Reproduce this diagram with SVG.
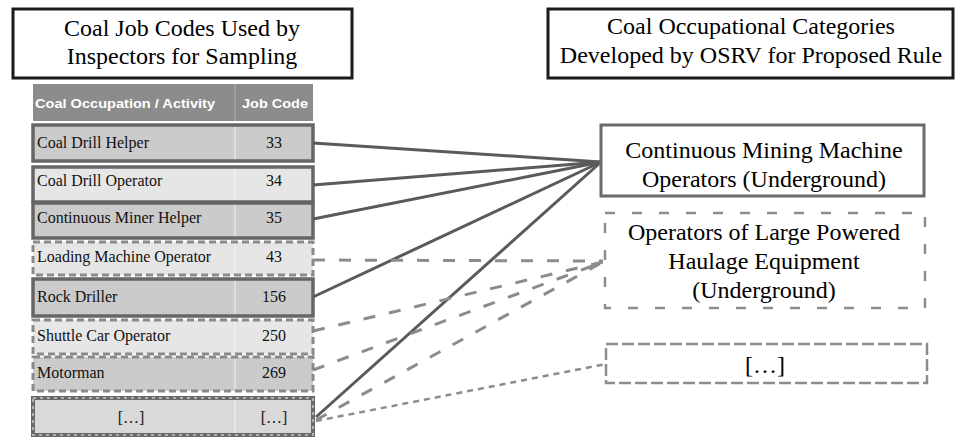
<svg xmlns="http://www.w3.org/2000/svg" width="959" height="444" viewBox="0 0 959 444">
<style>
.title{font-size:24px;fill:#000;text-anchor:middle}
.tbox{fill:#fff;stroke:#1a1a1a;stroke-width:3}
.hdr{font-weight:bold;font-size:12.5px;fill:#fff}
.cell{font-size:16px;fill:#111}
.code{font-size:16px;fill:#111;text-anchor:middle}
.dark{fill:#cbcbcb}
.light{fill:#e6e6e6}
.solidrow{stroke:#666;stroke-width:3.5}
.dashrow{stroke:#8a8a8a;stroke-width:3;stroke-dasharray:7 4}
.cat{font-size:24px;fill:#000;text-anchor:middle}
.solid{fill:none;stroke:#5a5a5a;stroke-width:3}
.dash{fill:none;stroke:#8c8c8c;stroke-width:3;stroke-dasharray:12 14}
.dot{fill:none;stroke:#8c8c8c;stroke-width:2.5;stroke-dasharray:6 5}
.div{stroke:#f4f4f4;stroke-width:1}
</style>

<g id="title-left" font-family="'Liberation Serif', 'Times New Roman', serif">
<rect class="tbox" x="13" y="9" width="339" height="69"/>
<text class="title" x="182" y="36">Coal Job Codes Used by</text>
<text class="title" x="182" y="64">Inspectors for Sampling</text>
</g>
<g id="title-right" font-family="'Liberation Serif', 'Times New Roman', serif">
<rect class="tbox" x="548" y="9" width="405" height="69"/>
<text class="title" x="751" y="34">Coal Occupational Categories</text>
<text class="title" x="751" y="63">Developed by OSRV for Proposed Rule</text>
</g>

<g id="table-header" font-family="'Liberation Sans', Arial, sans-serif">
<rect x="33" y="84" width="280" height="37" fill="#8c8c8c"/>
<line x1="235" y1="84" x2="235" y2="121" stroke="#b0b0b0" stroke-width="1"/>
<text class="hdr" x="35" y="108" textLength="180" lengthAdjust="spacingAndGlyphs">Coal Occupation / Activity</text>
<text class="hdr" x="242" y="108" textLength="66" lengthAdjust="spacingAndGlyphs">Job Code</text>
</g>

<g id="rows" font-family="'Liberation Serif', 'Times New Roman', serif">
<g id="row-33">
<rect class="dark solidrow" x="33" y="125" width="280" height="36"/>
<line class="div" x1="235" y1="127" x2="235" y2="159"/>
<text class="cell" x="37" y="148">Coal Drill Helper</text>
<text class="code" x="274" y="148">33</text>
</g>
<g id="row-34">
<rect class="light solidrow" x="33" y="167" width="280" height="35"/>
<line class="div" x1="235" y1="169" x2="235" y2="200"/>
<text class="cell" x="37" y="186">Coal Drill Operator</text>
<text class="code" x="274" y="186">34</text>
</g>
<g id="row-35">
<rect class="dark solidrow" x="33" y="203" width="280" height="35"/>
<line class="div" x1="235" y1="205" x2="235" y2="236"/>
<text class="cell" x="37" y="223">Continuous Miner Helper</text>
<text class="code" x="274" y="223">35</text>
</g>
<g id="row-43">
<rect class="light dashrow" x="33" y="242" width="280" height="33"/>
<line class="div" x1="235" y1="244" x2="235" y2="273"/>
<text class="cell" x="37" y="262">Loading Machine Operator</text>
<text class="code" x="274" y="262">43</text>
</g>
<g id="row-156">
<rect class="dark solidrow" x="33" y="279" width="280" height="37"/>
<line class="div" x1="235" y1="281" x2="235" y2="314"/>
<text class="cell" x="37" y="302">Rock Driller</text>
<text class="code" x="274" y="302">156</text>
</g>
<g id="row-250">
<rect class="light dashrow" x="33" y="320" width="280" height="34"/>
<line class="div" x1="235" y1="322" x2="235" y2="352"/>
<text class="cell" x="37" y="341">Shuttle Car Operator</text>
<text class="code" x="274" y="341">250</text>
</g>
<g id="row-269">
<rect class="dark dashrow" x="33" y="357" width="280" height="34"/>
<line class="div" x1="235" y1="359" x2="235" y2="389"/>
<text class="cell" x="37" y="378">Motorman</text>
<text class="code" x="274" y="378">269</text>
</g>
<g id="row-more">
<rect x="33" y="398" width="280" height="37" fill="#d9d9d9" stroke="#6a6a6a" stroke-width="4"/>
<rect x="33" y="398" width="280" height="37" fill="none" stroke="#c8c8c8" stroke-width="1.5" stroke-dasharray="3 4"/>
<line class="div" x1="235" y1="400" x2="235" y2="433"/>
<text class="code" x="131" y="423">[…]</text>
<text class="code" x="274" y="423">[…]</text>
</g>
</g>

<g id="connectors">
<line class="solid" x1="313" y1="143" x2="601" y2="162"/>
<line class="solid" x1="313" y1="185" x2="601" y2="162"/>
<line class="solid" x1="313" y1="219" x2="601" y2="162"/>
<line class="solid" x1="313" y1="297" x2="601" y2="162"/>
<line class="solid" x1="316" y1="417" x2="601" y2="162"/>
<line class="dash" x1="313" y1="260" x2="603" y2="261"/>
<line class="dash" x1="313" y1="331" x2="603" y2="262"/>
<line class="dash" x1="313" y1="370" x2="603" y2="262"/>
<line class="dash" x1="316" y1="420" x2="603" y2="262"/>
<line class="dot" x1="316" y1="421" x2="606" y2="364"/>
</g>

<g id="cat-continuous" font-family="'Liberation Serif', 'Times New Roman', serif">
<rect x="601" y="125" width="323" height="71" fill="#fff" stroke="#6b6b6b" stroke-width="3"/>
<text class="cat" x="764" y="158">Continuous Mining Machine</text>
<text class="cat" x="764" y="187">Operators (Underground)</text>
</g>
<g id="cat-haulage" font-family="'Liberation Serif', 'Times New Roman', serif">
<rect x="605" y="213" width="320" height="95" fill="#fff" stroke="#8c8c8c" stroke-width="2.5" stroke-dasharray="10 17"/>
<text class="cat" x="764" y="240">Operators of Large Powered</text>
<text class="cat" x="764" y="269">Haulage Equipment</text>
<text class="cat" x="764" y="298">(Underground)</text>
</g>
<g id="cat-more" font-family="'Liberation Serif', 'Times New Roman', serif">
<rect x="606" y="344" width="321" height="39" fill="#fff" stroke="#8c8c8c" stroke-width="2.5" stroke-dasharray="12 4"/>
<text class="cat" x="765" y="373">[…]</text>
</g>
</svg>
